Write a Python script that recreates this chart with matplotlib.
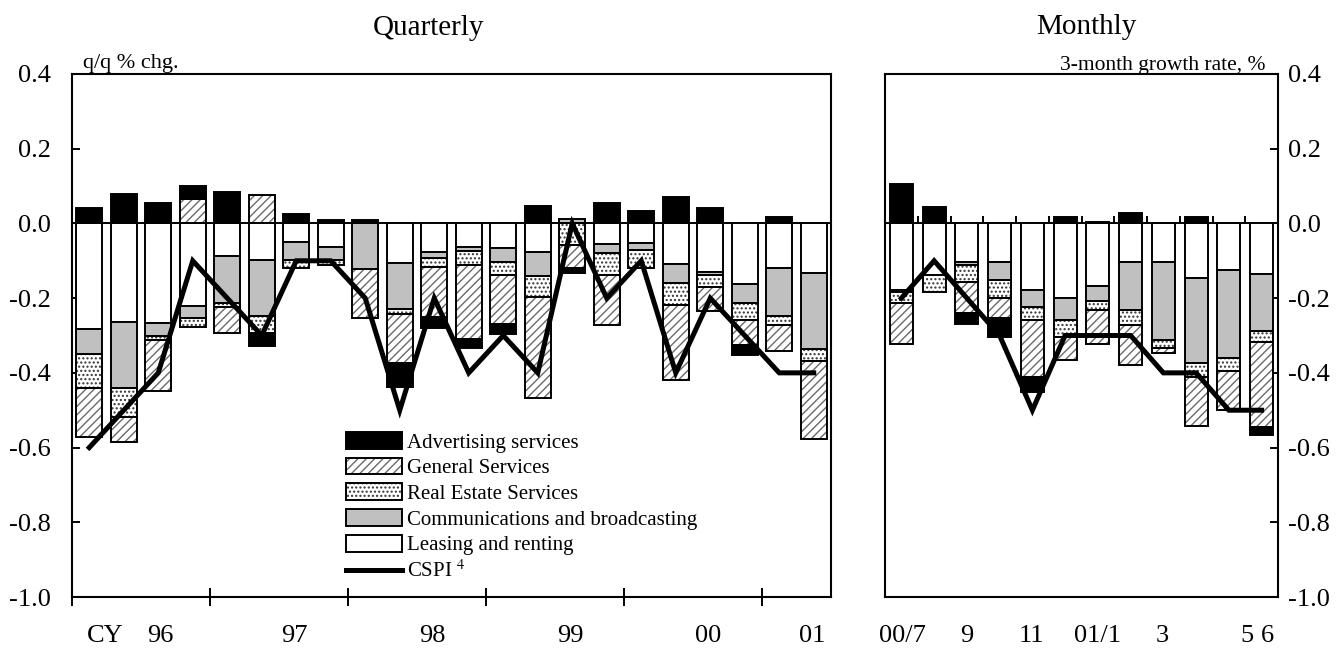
import matplotlib
matplotlib.use('Agg')
import matplotlib.pyplot as plt
import numpy as np
from matplotlib.patches import Patch
from matplotlib.lines import Line2D

plt.rcParams['font.family'] = ['Liberation Serif', 'DejaVu Serif']
plt.rcParams['mathtext.fontset'] = 'stix'
plt.rcParams['axes.unicode_minus'] = False
plt.rcParams['hatch.linewidth'] = 1.0

# ---------------- data ----------------
# Quarterly: 1996Q1 .. 2001Q2
year_labels = ['CY', '96', '97', '98', '99', '00', '01']
leasing_q = [-0.283, -0.263, -0.266, -0.221, -0.087, -0.098, -0.051, -0.062, 0.0, -0.107, -0.076,
             -0.064, -0.067, -0.076, 0.0, -0.055, -0.053, -0.109, -0.129, -0.162, -0.120, -0.132]
comm_q = [-0.066, -0.178, -0.034, -0.033, -0.125, -0.151, -0.047, -0.036, -0.122, -0.123, -0.017,
          -0.011, -0.035, -0.065, 0.012, -0.023, -0.018, -0.051, -0.010, -0.052, -0.129, -0.203]
realestate_q = [-0.092, -0.076, -0.012, -0.024, -0.011, -0.043, -0.020, -0.013, 0.0, -0.012, -0.023,
                -0.036, -0.036, -0.055, -0.058, -0.060, -0.049, -0.058, -0.031, -0.044, -0.022, -0.033]
general_q = [-0.130, -0.067, -0.136, 0.065, -0.069, 0.076, 0.0, 0.0, -0.130, -0.131, -0.134,
             -0.199, -0.131, -0.270, -0.062, -0.134, 0.0, -0.201, -0.065, -0.067, -0.071, -0.208]
advert_q = [0.041, 0.078, 0.056, 0.034, 0.085, -0.037, 0.025, 0.009, 0.009, -0.064, -0.031,
            -0.024, -0.027, 0.047, -0.012, 0.056, 0.032, 0.070, 0.041, -0.027, 0.017, 0.0]
cspi_q = [-0.6, -0.5, -0.4, -0.1, -0.2, -0.3, -0.1, -0.1, -0.2, -0.5, -0.2,
          -0.4, -0.3, -0.4, 0.0, -0.2, -0.1, -0.4, -0.2, -0.3, -0.4, -0.4]

# Monthly: 2000/7 .. 2001/6
month_labels = ['00/7', '9', '11', '01/1', '3', '5', '6']
leasing_m = [-0.178, -0.138, -0.103, -0.103, -0.177, -0.200, -0.167, -0.103, -0.103, -0.145, -0.125, -0.136]
comm_m = [-0.005, 0.0, -0.008, -0.048, -0.047, -0.058, -0.040, -0.130, -0.209, -0.228, -0.234, -0.151]
realestate_m = [-0.030, -0.045, -0.045, -0.049, -0.034, -0.045, -0.025, -0.039, -0.022, -0.039, -0.036, -0.030]
general_m = [-0.110, 0.0, -0.085, -0.054, -0.152, -0.063, -0.091, -0.107, -0.012, -0.130, -0.105, -0.227]
advert_m = [0.106, 0.045, -0.028, -0.049, -0.040, 0.018, 0.005, 0.027, 0.002, 0.017, 0.0, -0.023]
cspi_m = [-0.2, -0.1, -0.2, -0.3, -0.5, -0.3, -0.3, -0.3, -0.4, -0.4, -0.5, -0.5]

y_ticks = [-1.0, -0.8, -0.6, -0.4, -0.2, 0.0, 0.2, 0.4]
y_tick_labels = ['-1.0', '-0.8', '-0.6', '-0.4', '-0.2', '0.0', '0.2', '0.4']

names = ['Leasing and renting', 'Communications and broadcasting', 'Real Estate Services',
         'General Services', 'Advertising services']
styles = [
    dict(fc='white', hatch=None, hc=None),
    dict(fc='#c0c0c0', hatch=None, hc=None),
    dict(fc='white', hatch='....', hc='#333333'),
    dict(fc='white', hatch='////', hc='#6a6a6a'),
    dict(fc='black', hatch=None, hc=None),
]
EDGE_LW = 1.4


def draw_stack(ax, series, width):
    n = len(series[0])
    x = np.arange(n)
    pos = np.zeros(n)
    neg = np.zeros(n)
    for vals, st in zip(series, styles):
        v = np.asarray(vals, dtype=float)
        bottom = np.where(v >= 0, pos, neg)
        if st['hatch']:
            ax.bar(x, v, width, bottom=bottom, color='white', edgecolor=st['hc'],
                   hatch=st['hatch'], linewidth=0, zorder=2)
            ax.bar(x, v, width, bottom=bottom, fill=False, edgecolor='black',
                   linewidth=EDGE_LW, zorder=3)
        else:
            ax.bar(x, v, width, bottom=bottom, color=st['fc'], edgecolor='black',
                   linewidth=EDGE_LW, zorder=3)
        pos = pos + np.clip(v, 0, None)
        neg = neg + np.clip(v, None, 0)
    return x


W, H = 1343, 648
fig = plt.figure(figsize=(W / 100, H / 100), dpi=100)
axL = fig.add_axes([72 / W, 1 - 597 / H, (831 - 72) / W, (597 - 74) / H])
axR = fig.add_axes([885 / W, 1 - 597 / H, (1278 - 885) / W, (597 - 74) / H])

for ax in (axL, axR):
    for sp in ax.spines.values():
        sp.set_linewidth(1.5)
    ax.set_ylim(-1.0, 0.4)
    ax.axhline(0, color='black', lw=1.4, zorder=1.5)
    ax.set_yticks(y_ticks, y_tick_labels)

# ---------- Quarterly ----------
xq = draw_stack(axL, [leasing_q, comm_q, realestate_q, general_q, advert_q], 0.75)
axL.plot(xq, cspi_q, color='black', lw=3.6, zorder=5, solid_joinstyle='miter')
axL.set_xlim(-0.5, 21.5)
axL.set_xticks(np.arange(-0.5, 20, 4))
axL.set_xticklabels([])
axL.tick_params(axis='x', which='major', direction='inout', length=13, width=1.4)
axL.set_xticks([0.45, 2.05, 5.95, 9.95, 13.95, 17.95, 20.95], year_labels, minor=True)
axL.tick_params(axis='x', which='minor', length=0, pad=20, labelsize=19)
axL.tick_params(axis='y', direction='in', length=6, width=1.4, labelsize=19, pad=15)

# ---------- Monthly ----------
xm = draw_stack(axR, [leasing_m, comm_m, realestate_m, general_m, advert_m], 0.7)
axR.plot(xm, cspi_m, color='black', lw=3.6, zorder=5, solid_joinstyle='miter')
axR.set_xlim(-0.5, 11.5)
axR.set_xticks([])
axR.set_xticks([0.02, 2.0, 3.98, 5.99, 7.97, 10.54, 11.18], month_labels, minor=True)
axR.tick_params(axis='x', which='minor', length=0, pad=20, labelsize=19)
axR.vlines(np.arange(0.5, 11.0, 1.0), 0, 0.02, color='black', lw=1.4, zorder=4)
axR.yaxis.tick_right()
axR.tick_params(axis='y', direction='in', length=6, width=1.4, labelsize=19, pad=7)

# ---------- legend ----------
handles = []
for idx in [4, 3, 2, 1, 0]:
    st = styles[idx]
    if st['hatch']:
        handles.append((Patch(facecolor='white', edgecolor=st['hc'], hatch=st['hatch'], linewidth=0),
                        Patch(fill=False, edgecolor='black', linewidth=EDGE_LW)))
    else:
        handles.append(Patch(facecolor=st['fc'], edgecolor='black', linewidth=EDGE_LW))
handles.append(Line2D([], [], color='black', lw=3.6))
labels = [names[i] for i in [4, 3, 2, 1, 0]] + ['CSPI $^{4}$']
axL.legend(handles, labels, loc='upper left', bbox_to_anchor=(346 / W, 1 - 432 / H),
           bbox_transform=fig.transFigure, frameon=False, fontsize=15,
           handlelength=2.7, handleheight=0.85, handletextpad=0.25,
           labelspacing=0.25, borderpad=0, borderaxespad=0)

# ---------- texts ----------
fig.text(428 / W, 1 - 28 / H, 'Quarterly', ha='center', va='center', fontsize=21)
fig.text(1086 / W, 1 - 27 / H, 'Monthly', ha='center', va='center', fontsize=21)
fig.text(83 / W, 1 - 68 / H, 'q/q % chg.', ha='left', va='baseline', fontsize=16)
fig.text(1265 / W, 1 - 70 / H, '3-month growth rate, %', ha='right', va='baseline', fontsize=15.5)

fig.savefig('out.png', dpi=100)
